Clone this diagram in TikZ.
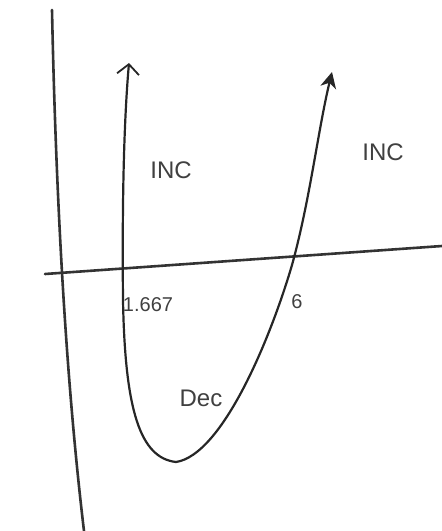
\documentclass[tikz,border=0pt]{standalone}
\usepackage{fontspec}
\setmainfont{Liberation Sans}
\usetikzlibrary{arrows.meta}
\begin{document}
\begin{tikzpicture}[x=1pt,y=-1pt,
  axis/.style={line width=2.6pt, black!80, line cap=round},
  graph/.style={line width=2.2pt, black!85, line cap=round, line join=round},
  lbl/.style={font=\fontsize{24}{24}\selectfont, text=black!75, inner sep=0pt}]
\useasboundingbox (0,0) rectangle (442,531);
% axes
\coordinate (yt) at (52,10);
\coordinate (yb) at (84,531);
\coordinate (xl) at (45,274);
\coordinate (xr) at (442,246);
\draw[axis] (yt) .. controls (56,200) and (66,380) .. (yb);
\draw[axis] (xl) -- (xr);
% curve
\coordinate (tl) at (129,63);
\coordinate (tr) at (332,72);
\coordinate (bot) at (176,462);
\draw[graph, -{Straight Barb[length=10pt,width=22pt,line width=1.8pt]}]
  (bot) .. controls (140,458) and (125,410) .. (123,300)
  .. controls (122,200) and (124,120) .. (tl);
\draw[graph, -{Stealth[length=16pt,width=16pt,inset=5pt]}]
  (bot) .. controls (222,455) and (270,340) .. (292,265)
  .. controls (310,200) and (318,130) .. (tr);
% labels
\node[lbl] (inc1) at (171,170) {INC};
\node[lbl] (inc2) at (383,152) {INC};
\node[lbl, font=\fontsize{20}{20}\selectfont] (r1) at (148,305) {1.667};
\node[lbl, font=\fontsize{20}{20}\selectfont] (r2) at (297,302) {6};
\node[lbl] (dec) at (201,398) {Dec};
\end{tikzpicture}
\end{document}
